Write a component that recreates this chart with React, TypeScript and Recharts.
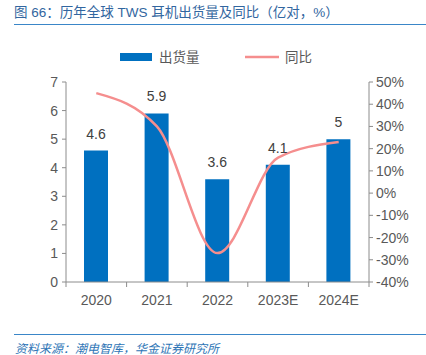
import { ComposedChart, Bar, Line, XAxis, YAxis, LabelList } from 'recharts'

const years = ['2020', '2021', '2022', '2023E', '2024E']
const shipments = [4.6, 5.9, 3.6, 4.1, 5]
const yoy = [45, 30, -27, 16, 23]
const leftTicks = [0, 1, 2, 3, 4, 5, 6, 7]
const rightTicks = [-40, -30, -20, -10, 0, 10, 20, 30, 40, 50]

const data = years.map((year, i) => ({ year, shipments: shipments[i], yoy: yoy[i] }))

const BLUE = '#0070c0'
const PINK = '#f58e8e'
const AXIS = '#8c8c8c'
const TEXT = '#595959'
const FONT = 'Liberation Sans, Arial, "Noto Sans CJK SC", sans-serif'
const CJK = '"Noto Sans CJK SC", sans-serif'

// category ticks sit between bars, like the Excel original
const XTick = (props: any) => {
  const { x, y, payload, index } = props
  const half = 303 / years.length / 2
  const axisY = y - 13
  return (
    <g>
      <line x1={x - half} x2={x - half} y1={axisY} y2={axisY + 5} stroke={AXIS} />
      {index === years.length - 1 && (
        <line x1={x + half} x2={x + half} y1={axisY} y2={axisY + 5} stroke={AXIS} />
      )}
      <text x={x} y={y} dy="0.71em" textAnchor="middle" fill={TEXT} fontSize={14} fontFamily={FONT}>
        {payload.value}
      </text>
    </g>
  )
}

const LegendBox = () => (
  <svg width={426} height={20} style={{ position: 'absolute', left: 0, top: 47 }}>
    <rect x={120} y={6} width={32} height={8} fill={BLUE} />
    <text x={159} y={15} fill={TEXT} fontSize={13.5} fontFamily={CJK}>出货量</text>
    <line x1={245} x2={279} y1={10} y2={10} stroke={PINK} strokeWidth={2.5} />
    <text x={285} y={15} fill={TEXT} fontSize={13.5} fontFamily={CJK}>同比</text>
  </svg>
)

export default function App() {
  return (
    <div style={{ position: 'absolute', left: 0, top: 0, width: 426, height: 355, background: '#fff' }}>
      <div
        style={{
          position: 'absolute', left: 14, top: 4, fontSize: 13.5, color: '#3266a0',
          fontFamily: FONT, whiteSpace: 'nowrap', lineHeight: '18px',
        }}
      >
        图 66：历年全球 TWS 耳机出货量及同比（亿对，%）
      </div>
      <div style={{ position: 'absolute', left: 14, top: 24, width: 412, height: 1, background: '#3a86c8' }} />

      <LegendBox />

      <div style={{ position: 'absolute', left: 0, top: 0 }}>
        <ComposedChart width={426} height={355} data={data} margin={{ top: 82, right: 0, bottom: 43, left: 0 }}>
          <XAxis
            dataKey="year"
            stroke={AXIS}
            tickLine={false}
            tickSize={5}
            tickMargin={8}
            height={30}
            tick={<XTick />}
            interval={0}
          />
          <YAxis
            yAxisId="left"
            width={66}
            domain={[0, 7]}
            ticks={leftTicks}
            interval={0}
            stroke={AXIS}
            tickSize={4}
            tickMargin={4}
            tick={{ fill: TEXT, fontSize: 14, fontFamily: FONT }}
          />
          <YAxis
            yAxisId="right"
            orientation="right"
            width={57}
            domain={[-40, 50]}
            ticks={rightTicks}
            interval={0}
            stroke={AXIS}
            tickSize={4}
            tickMargin={3}
            tickFormatter={(v: number) => `${v}%`}
            tick={{ fill: TEXT, fontSize: 14, fontFamily: FONT, textAnchor: 'start' }}
          />
          <Bar yAxisId="left" dataKey="shipments" name="出货量" fill={BLUE} barSize={24} isAnimationActive={false}>
            <LabelList dataKey="shipments" position="top" offset={12} fill="#404040" fontSize={14} fontFamily={FONT} />
          </Bar>
          <Line
            yAxisId="right"
            dataKey="yoy"
            name="同比"
            type="monotone"
            stroke={PINK}
            strokeWidth={2.5}
            dot={false}
            isAnimationActive={false}
          />
        </ComposedChart>
      </div>

      <div style={{ position: 'absolute', left: 14, top: 334, width: 412, height: 1, background: '#3a86c8' }} />
      <div
        style={{
          position: 'absolute', left: 15, top: 340, fontSize: 12, color: '#2e75b6',
          fontStyle: 'italic', fontFamily: CJK, whiteSpace: 'nowrap', lineHeight: '15px',
        }}
      >
        资料来源：潮电智库，华金证券研究所
      </div>
    </div>
  )
}
